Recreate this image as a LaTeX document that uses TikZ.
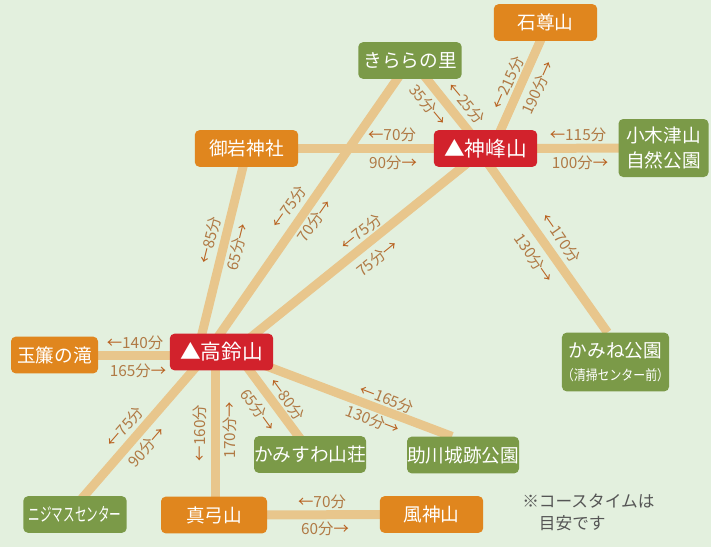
\documentclass[tikz,border=0pt]{standalone}
\usepackage{fontspec}
\setmainfont{Noto Sans CJK JP}
\usetikzlibrary{calc,backgrounds}
\definecolor{bgc}{HTML}{E3F0DE}
\definecolor{roadc}{HTML}{E8C68C}
\definecolor{orng}{HTML}{E0861E}
\definecolor{grn}{HTML}{7B9A48}
\definecolor{redc}{HTML}{D2222C}
\definecolor{lblc}{HTML}{B07A45}
\definecolor{arrc}{HTML}{B8601E}
\definecolor{notec}{HTML}{555555}
\newcommand\myl{\textcolor{arrc}{←}}
\newcommand\myr{\textcolor{arrc}{→}}
\begin{document}
\begin{tikzpicture}[x=0.75pt,y=-0.75pt,
  box/.style={rounded corners=3.5pt, text=white, inner sep=0pt, align=center,
    font=\fontsize{14}{19}\selectfont, minimum width=77.5pt, minimum height=27.5pt},
  obox/.style={box, fill=orng},
  gbox/.style={box, fill=grn},
  rbox/.style={box, fill=redc, font=\fontsize{15.5}{19}\selectfont},
  road/.style={draw=roadc, line width=6.75pt},
  lbl/.style={text=lblc, inner sep=0pt, font=\fontsize{11.5}{12}\selectfont},
  note/.style={text=notec, inner sep=0pt, align=left, font=\fontsize{12.5}{16.5}\selectfont}]
\useasboundingbox (0,0) rectangle (711,547);
% nodes
\node[obox] (sekison) at (545.5,22.5) {石尊山};
\node[gbox] (kirara) at (410,60.5) {きららの里};
\node[rbox] (kanmine) at (485.5,148.5) {▲神峰山};
\node[obox] (oiwa) at (246.5,148.5) {御岩神社};
\node[gbox, minimum width=67.5pt, minimum height=43.5pt] (ogitsu) at (663.5,148) {小木津山\\自然公園};
\node[rbox] (takasuzu) at (221.5,352) {▲高鈴山};
\node[obox, minimum width=65.25pt] (tamadare) at (54.5,355) {玉簾の滝};
\node[gbox, minimum width=78.75pt, minimum height=44pt] (kaminep) at (615.5,362) {かみね公園\\[-2pt]{\fontsize{10.5}{12}\selectfont\scalebox{0.85}[1]{（清掃センター前）}}};
\node[gbox] (kamisuwa) at (310,454.5) {かみすわ山荘};
\node[gbox] (sukegawa) at (463,455) {助川城跡公園};
\node[gbox] (nijimasu) at (75,514.5) {\scalebox{0.62}[1]{ニジマスセンター}};
\node[obox, minimum width=79.5pt] (mayumi) at (214,515) {真弓山};
\node[obox] (fujin) at (431.5,514.5) {風神山};
\node[note, anchor=north west] (note) at (522,494) {※コースタイムは\\\hspace{1em}目安です};
% background and roads
\begin{scope}[on background layer]
\fill[bgc] (0,0) rectangle (711,547);
\draw[road] ($(kanmine.center)+(7,0)$) -- ($(sekison.center)+(3,0)$);
\draw[road] ($(kanmine.center)+(-3,0)$) -- ($(kirara.center)+(2,0)$);
\draw[road] (kirara.center) -- ($(takasuzu.center)+(-14,0)$);
\draw[road] ($(oiwa.center)+(1,0)$) -- ($(takasuzu.center)+(-24,0)$);
\draw[road] (kanmine.center) -- ($(takasuzu.center)+(11,0)$);
\draw[road] (oiwa.center) -- (kanmine.center);
\draw[road] (kanmine.center) -- (ogitsu.center);
\draw[road] ($(kanmine.center)+(-8,0)$) -- ($(kaminep.north)+(-8,0)$);
\draw[road] (tamadare.center) -- (tamadare.center -| takasuzu.center);
\draw[road] ($(takasuzu.center)+(-12.5,0)$) -- ($(nijimasu.center)+(-7,0)$);
\draw[road] ($(takasuzu.center)+(-6.5,0)$) -- ($(mayumi.center)+(1,0)$);
\draw[road] ($(takasuzu.center)+(14.5,0)$) -- ($(kamisuwa.center)+(2,0)$);
\draw[road] ($(takasuzu.center)+(0,-3)$) -- ($(sukegawa.north)+(-11,0)$);
\draw[road] (mayumi.center) -- (fujin.center);
\end{scope}
% labels
\node[lbl] (l1) at (392,135) {\myl70分};
\node[lbl] (l2) at (393,163) {90分\myr};
\node[lbl] (l3) at (578,135) {\myl115分};
\node[lbl] (l4) at (580,163) {100分\myr};
\node[lbl] (l5) at (135,343) {\myl140分};
\node[lbl] (l6) at (138,371) {165分\myr};
\node[lbl] (l7) at (322,502) {\myl70分};
\node[lbl] (l8) at (325,529) {60分\myr};
\node[lbl, rotate=66] (l9) at (508,83) {\myl215分};
\node[lbl, rotate=66] (l10) at (538,88) {190分\myr};
\node[lbl, rotate=-50] (l11) at (428,105) {35分\myr};
\node[lbl, rotate=-50] (l12) at (466,103) {\myl25分};
\node[lbl, rotate=76] (l13) at (210,240) {\myl85分};
\node[lbl, rotate=76] (l14) at (238,247) {65分\myr};
\node[lbl, rotate=55] (l15) at (289,207) {\myl75分};
\node[lbl, rotate=55] (l16) at (315,221) {70分\myr};
\node[lbl, rotate=39] (l17) at (361,232) {\myl75分};
\node[lbl, rotate=39] (l18) at (377,258) {75分\myr};
\node[lbl, rotate=-55] (l19) at (561,238) {\myl170分};
\node[lbl, rotate=-55] (l20) at (534,258) {130分\myr};
\node[lbl, rotate=49] (l21) at (125,427) {\myl75分};
\node[lbl, rotate=49] (l22) at (147,447) {90分\myr};
\node[lbl, rotate=90] (l23) at (200,433) {\myl160分};
\node[lbl, rotate=90] (l24) at (230,430) {170分\myr};
\node[lbl, rotate=-54] (l25) at (258,410) {65分\myr};
\node[lbl, rotate=-54] (l26) at (287,399) {\myl80分};
\node[lbl, rotate=-21] (l27) at (387,399) {\myl165分};
\node[lbl, rotate=-21] (l28) at (373,420) {130分\myr};
\end{tikzpicture}
\end{document}
